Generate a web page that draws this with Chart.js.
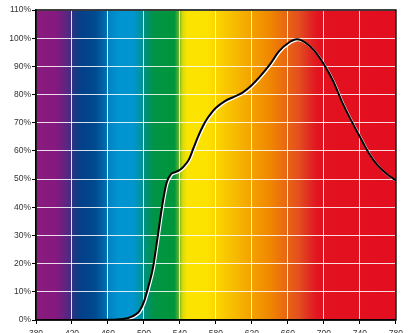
<!DOCTYPE html>
<html>
<head>
<meta charset="utf-8">
<script src="https://cdn.jsdelivr.net/npm/chart.js@4"></script>
<style>
  html, body { margin: 0; padding: 0; background: #fff; overflow: hidden; }
  #wrap { width: 408px; height: 345px; }
</style>
</head>
<body>
<div id="wrap"><canvas id="spectrumChart"></canvas></div>
<script>
// wavelength (nm) and relative sensitivity (%)
const wavelengths = [380, 400, 420, 440, 460, 470, 480, 485, 490, 495, 500, 505, 510, 515, 520, 525, 530, 535, 540, 545, 550, 555, 560, 565, 570, 575, 580, 590, 600, 610, 620, 630, 640, 650, 660, 670, 680, 690, 700, 710, 720, 730, 740, 750, 760, 770, 780]
const sensitivity = [0, 0, 0, 0, 0.1, 0.2, 0.5, 1.0, 1.8, 3.2, 6.5, 12, 18.5, 29, 40, 48.5, 51.8, 52.5, 53.3, 54.8, 57, 61, 65, 68.5, 71.3, 73.5, 75.3, 77.7, 79.2, 80.8, 83.4, 86.8, 90.7, 95.3, 98.2, 99.6, 98.3, 95.3, 90.7, 85, 77.5, 71, 65, 59.2, 54.8, 51.8, 49.5]

const xTicks = [380, 420, 460, 500, 540, 580, 620, 660, 700, 740, 780]
const yTicks = [0, 10, 20, 30, 40, 50, 60, 70, 80, 90, 100, 110]

const points = wavelengths.map((w, i) => ({ x: w, y: sensitivity[i] }))

// spectrum behind the plot
const spectrumBackground = {
    id: 'spectrumBackground',
    beforeDraw(chart) {
        const { ctx, chartArea: a } = chart
        const stops = [
            [380, '#8a1b7e'], [402, '#86197f'], [414, '#5c2581'], [424, '#173a82'],
            [432, '#02418a'], [446, '#004a90'], [456, '#0066aa'], [462, '#0086c4'],
            [472, '#0094d0'], [488, '#0096d0'], [497, '#00929e'], [504, '#00906a'],
            [512, '#009444'], [534, '#00963a'], [539, '#6cb52a'], [543, '#d8da08'],
            [548, '#fbe400'], [570, '#fde200'], [590, '#f9c900'], [615, '#f4a800'],
            [640, '#f08700'], [656, '#ea6a10'], [672, '#e3501e'], [684, '#e02a22'],
            [694, '#e3121f'], [780, '#e30e20']
        ]
        const g = ctx.createLinearGradient(a.left, 0, a.right, 0)
        stops.forEach(s => g.addColorStop((s[0] - 380) / 400, s[1]))
        ctx.save()
        ctx.fillStyle = g
        ctx.fillRect(a.left, a.top, a.right - a.left, a.bottom - a.top)
        ctx.restore()
    },
    beforeDatasetDraw(chart) {
        const ctx = chart.ctx
        ctx.save()
        ctx.shadowColor = '#ffffff'
        ctx.shadowOffsetX = 1
        ctx.shadowOffsetY = 1
        ctx.shadowBlur = 0
    },
    afterDatasetDraw(chart) {
        chart.ctx.restore()
    },
    afterDraw(chart) {
        const { ctx, chartArea: a } = chart
        ctx.save()
        ctx.strokeStyle = '#000'
        ctx.lineWidth = 1.5
        ctx.strokeRect(a.left, a.top, a.right - a.left, a.bottom - a.top)
        ctx.restore()
    }
}

const tickFont = { family: 'Liberation Sans', size: 8.5 }

new Chart('spectrumChart', {
    type: 'line',
    data: {
        datasets: [{
            data: points,
            borderColor: '#000',
            borderWidth: 2,
            pointRadius: 0,
            fill: false,
            cubicInterpolationMode: 'monotone'
        }]
    },
    options: {
        responsive: true,
        maintainAspectRatio: false,
        animation: false,
        layout: { padding: { top: 10, right: 8, left: 0, bottom: 0 } },
        plugins: { legend: { display: false }, tooltip: { enabled: false } },
        scales: {
            x: {
                type: 'linear',
                min: 380,
                max: 780,
                afterBuildTicks: s => { s.ticks = xTicks.map(v => ({ value: v })) },
                afterFit: s => { s.height = 25 },
                ticks: { color: '#333', font: tickFont, padding: 5, maxRotation: 0 },
                grid: { color: 'rgba(255,255,255,0.85)', lineWidth: 1, tickColor: '#000', tickLength: 4 },
                border: { color: '#000', width: 1.5 }
            },
            y: {
                min: 0,
                max: 110,
                afterBuildTicks: s => { s.ticks = yTicks.map(v => ({ value: v })) },
                afterFit: s => { s.width = 36 },
                ticks: { color: '#333', font: tickFont, padding: 1, callback: v => v + '%' },
                grid: { color: 'rgba(255,255,255,0.85)', lineWidth: 1, tickColor: '#000', tickLength: 4 },
                border: { color: '#000', width: 1.5 }
            }
        }
    },
    plugins: [spectrumBackground]
})
</script>
</body>
</html>
